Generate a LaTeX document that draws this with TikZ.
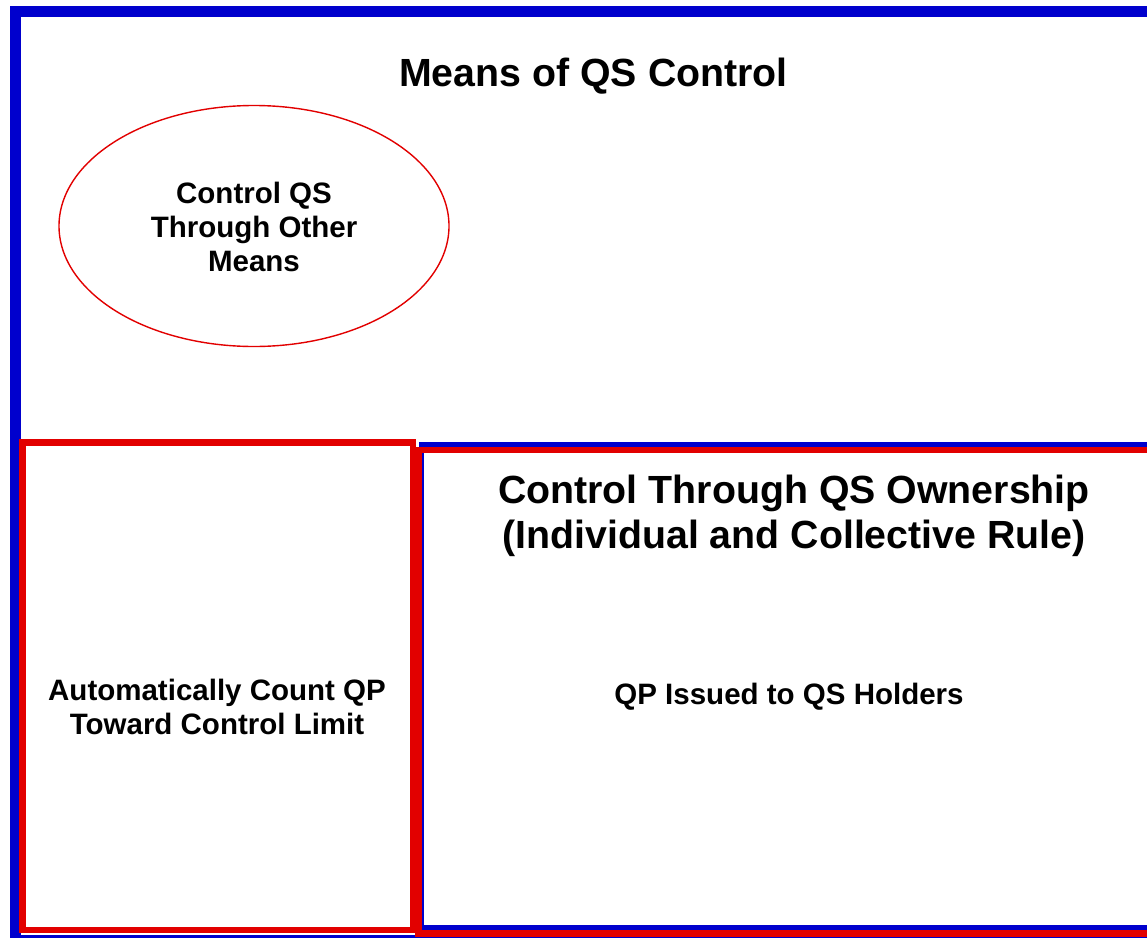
\documentclass[tikz,border=0pt]{standalone}
\usepackage{fontspec}
\setmainfont{Liberation Sans}
\definecolor{frameblue}{RGB}{0,0,205}
\definecolor{boxred}{RGB}{226,0,0}
\tikzset{
  bluebox/.style={draw=frameblue},
  redbox/.style={draw=boxred},
  smalltext/.style={align=center,font=\bfseries\fontsize{29.5}{34}\selectfont,inner sep=0pt},
  bigtext/.style={align=center,font=\bfseries\fontsize{39.3}{45}\selectfont,inner sep=0pt}
}
\begin{document}
\begin{tikzpicture}[x=1pt,y=-1pt]
\useasboundingbox (0,0) rectangle (1147,937);
\fill[white] (0,0) rectangle (1147,937);
% outer frame
\draw[bluebox,line width=11pt] (15.5,11.5) rectangle (1175,940);
% ellipse
\draw[redbox,line width=1.4pt] (254,226) ellipse [x radius=195, y radius=120.5];
\node[smalltext] (other) at (254,227) {Control QS\\Through Other\\Means};
% title
\node[bigtext] (title) at (593.5,76) {Means of QS Control};
% right region
\draw[bluebox,line width=5pt] (421,444.5) rectangle (1175,927.5);
\draw[redbox,line width=6.5pt] (418.5,450) rectangle (1180,933.5);
% left box
\draw[redbox,line width=6.5pt] (22.25,442.25) rectangle (412.75,929.75);
\node[smalltext] (auto) at (217,707) {Automatically Count QP\\Toward Control Limit};
\node[bigtext] (own) at (794,515.5) {Control Through QS Ownership\\(Individual and Collective Rule)};
\node[smalltext] (issued) at (789,697) {QP Issued to QS Holders};
\end{tikzpicture}
\end{document}
